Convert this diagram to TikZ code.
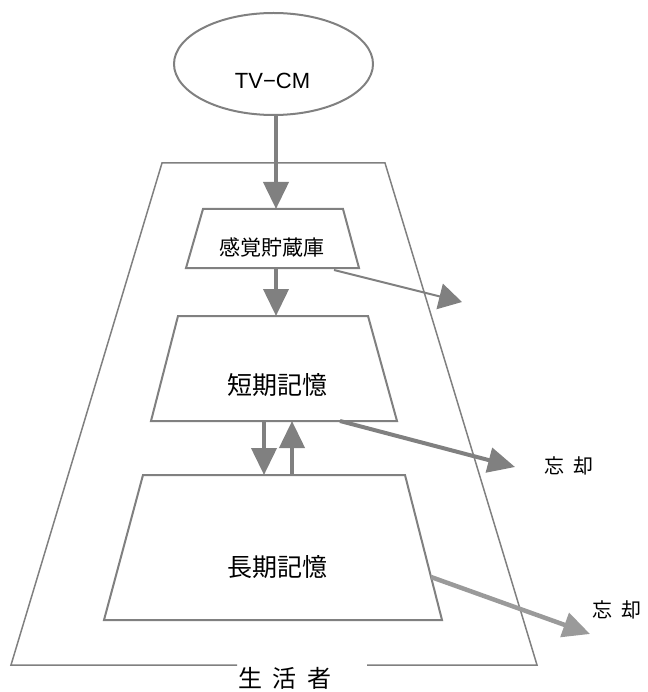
\documentclass[tikz,border=0pt]{standalone}
\usepackage{fontspec}
\setmainfont{Noto Sans CJK JP}
\newfontfamily\latinsans{Liberation Sans}
\usetikzlibrary{arrows.meta,shapes.geometric}
\definecolor{lg}{HTML}{808080}
\definecolor{lg2}{HTML}{9A9A9A}
\tikzset{
  box/.style={draw=lg, line width=2pt, line join=miter},
  outer/.style={draw=lg, line width=1.5pt},
  bigarrow/.style={draw=lg, line width=4pt, -{Triangle[length=27pt,width=25pt]}, fill=lg},
  thinarrow/.style={draw=lg, line width=2pt, -{Triangle[length=23pt,width=26pt]}, fill=lg},
  lbl/.style={inner sep=0pt, text=black},
}
\begin{document}
\begin{tikzpicture}[x=1pt,y=-1pt]
\useasboundingbox (0,0) rectangle (647,692);
% outer trapezoid (生活者)
\coordinate (otl) at (162,163);
\coordinate (otr) at (385,163);
\coordinate (obr) at (537,665);
\coordinate (obl) at (11,665);
\coordinate (ogl) at (237,665);
\coordinate (ogr) at (367,665);
\draw[outer] (ogl) -- (obl) -- (otl) -- (otr) -- (obr) -- (ogr);
\node[lbl, font=\fontsize{24}{24}\selectfont] (seikatsu) at (285,678) {生\hspace{11pt}活\hspace{11pt}者};
% ellipse
\node[draw=lg, line width=2pt, ellipse, minimum width=199pt, minimum height=102pt, inner sep=0pt] (tv) at (273.5,64) {};
\node[lbl, font=\latinsans\fontsize{22}{22}\selectfont] (tvtext) at (272.5,80.5) {TV−CM};
% box 1
\coordinate (b1tl) at (203,209);
\coordinate (b1tr) at (343,209);
\coordinate (b1br) at (359,268);
\coordinate (b1bl) at (186,268);
\draw[box] (b1tl) -- (b1tr) -- (b1br) -- (b1bl) -- cycle;
\node[lbl, font=\fontsize{21}{21}\selectfont] (b1) at (272,247) {感覚貯蔵庫};
% box 2
\coordinate (b2tl) at (178,316);
\coordinate (b2tr) at (368,316);
\coordinate (b2br) at (397,421);
\coordinate (b2bl) at (151,421);
\draw[box] (b2tl) -- (b2tr) -- (b2br) -- (b2bl) -- cycle;
\node[lbl, font=\fontsize{25}{25}\selectfont] (b2) at (277,385) {短期記憶};
% box 3
\coordinate (b3tl) at (143,475);
\coordinate (b3tr) at (405,475);
\coordinate (b3br) at (442,620);
\coordinate (b3bl) at (104,620);
\draw[box] (b3tl) -- (b3tr) -- (b3br) -- (b3bl) -- cycle;
\node[lbl, font=\fontsize{25}{25}\selectfont] (b3) at (277,567) {長期記憶};
% forget labels
\node[lbl, font=\fontsize{20}{20}\selectfont] (f1) at (569,466) {忘\hspace{9pt}却};
\node[lbl, font=\fontsize{20}{20}\selectfont] (f2) at (617,610) {忘\hspace{9pt}却};
% connector endpoints
\coordinate (a1s) at (276,115);
\coordinate (a1e) at (276,209);
\coordinate (a2s) at (276,268);
\coordinate (a2e) at (276,316);
\coordinate (a3s) at (264,421);
\coordinate (a3e) at (264,475);
\coordinate (a4s) at (292,475);
\coordinate (a4e) at (292,421);
\coordinate (o1s) at (334,270);
\coordinate (o1e) at (462,302);
\coordinate (o2s) at (340,421);
\coordinate (o2e) at (515,467);
\coordinate (o3s) at (431,577);
\coordinate (o3e) at (590,634);
% arrows
\draw[bigarrow] (a1s) -- (a1e);
\draw[bigarrow] (a2s) -- (a2e);
\draw[bigarrow] (a3s) -- (a3e);
\draw[bigarrow] (a4s) -- (a4e);
\draw[thinarrow] (o1s) -- (o1e);
\draw[bigarrow] (o2s) -- (o2e);
\draw[bigarrow, draw=lg2, fill=lg2, line width=4.5pt] (o3s) -- (o3e);
\end{tikzpicture}
\end{document}
